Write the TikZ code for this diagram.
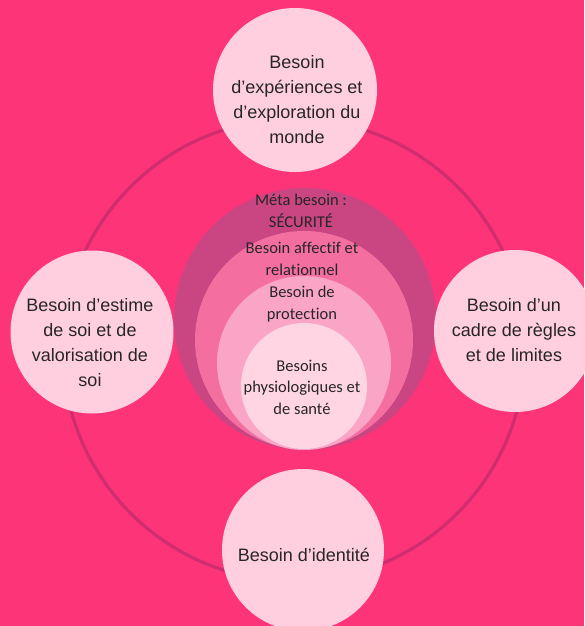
\documentclass[tikz,border=0pt]{standalone}
\usepackage{fontspec}
\setmainfont{Liberation Sans}
\newfontfamily\innerfont[Ligatures=NoCommon]{Carlito}
\definecolor{bgpink}{HTML}{FE3479}
\definecolor{ringc}{HTML}{CF2D6E}
\definecolor{nodefill}{HTML}{FFCFE0}
\definecolor{c1}{HTML}{C94683}
\definecolor{c2}{HTML}{F46FA0}
\definecolor{c3}{HTML}{FBA5C6}
\definecolor{c4}{HTML}{FFD4E3}
\definecolor{txt}{HTML}{262626}
\begin{document}
\begin{tikzpicture}[x=1pt,y=-1pt,
  outer/.style={circle,fill=nodefill,minimum size=#1,inner sep=0pt},
  otext/.style={text=txt,align=center,font=\fontsize{18}{25}\selectfont},
  itext/.style={text=txt,align=center,font=\innerfont\fontsize{16.5}{21.5}\selectfont}]
\useasboundingbox (0,0) rectangle (584,626);
\fill[bgpink] (0,0) rectangle (584,626);
% ring
\draw[ringc,line width=3.2pt] (294,350) circle[radius=231];
% concentric circles
\node[circle,fill=c1,minimum size=262pt,inner sep=0pt] (s1) at (305,319) {};
\node[circle,fill=c2,minimum size=218pt,inner sep=0pt] (s2) at (304,340) {};
\node[circle,fill=c3,minimum size=174pt,inner sep=0pt] (s3) at (304,363) {};
\node[circle,fill=c4,minimum size=126pt,inner sep=0pt] (s4) at (304,386) {};
\node[itext] (t1) at (301,211) {Méta besoin :\\SÉCURITÉ};
\node[itext] (t2) at (302,259) {Besoin affectif et\\relationnel};
\node[itext] (t3) at (302,304) {Besoin de\\protection};
\node[itext] (t4) at (302,387) {Besoins\\physiologiques et\\de santé};
% outer nodes
\node[outer=164pt] (top) at (295,90) {};
\node[outer=163pt] (left) at (92,332) {};
\node[outer=162pt] (right) at (515,331) {};
\node[outer=162pt] (bottom) at (303,550) {};
\node[otext] (ttop) at (297,99.5) {Besoin\\d’expériences et\\d’exploration du\\monde};
\node[otext] (tleft) at (90,343) {Besoin d’estime\\de soi et de\\valorisation de\\soi};
\node[otext] (tright) at (514,330) {Besoin d’un\\cadre de règles\\et de limites};
\node[otext] (tbottom) at (304,555) {Besoin d’identité};
\end{tikzpicture}
\end{document}
